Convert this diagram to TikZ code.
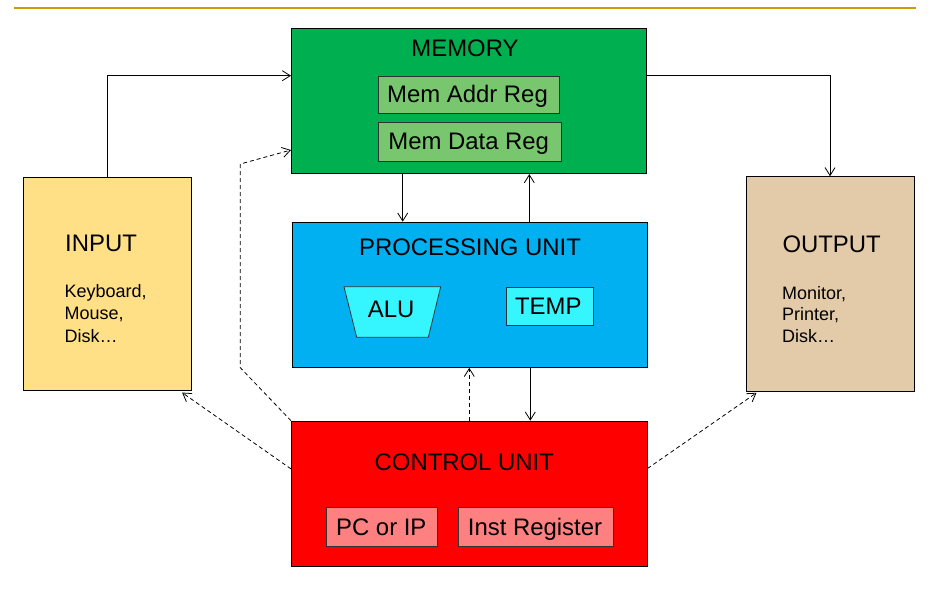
\documentclass[tikz,border=0pt]{standalone}
\usepackage{fontspec}
\setmainfont{Liberation Sans}
\usetikzlibrary{arrows.meta,calc}
\definecolor{memgreen}{HTML}{00B050}
\definecolor{reggreen}{HTML}{78C76E}
\definecolor{pucyan}{HTML}{00B0F0}
\definecolor{alucyan}{HTML}{35F6FF}
\definecolor{cured}{HTML}{FF0000}
\definecolor{regred}{HTML}{FF8080}
\definecolor{inyellow}{HTML}{FFE086}
\definecolor{outtan}{HTML}{E3CBA9}
\definecolor{goldline}{HTML}{CC9A06}
\tikzset{
  unitbox/.style={draw=black, line width=1.1pt, anchor=north west, inner sep=0pt, minimum width=#1},
  regbox/.style={draw=black!80, line width=0.8pt, anchor=north west, inner sep=0pt},
  bigtxt/.style={font=\fontsize{23.9}{28}\selectfont, inner sep=0pt, anchor=base},
  smalltxt/.style={font=\fontsize{18}{22}\selectfont, inner sep=0pt, anchor=base west, align=left},
  arr/.style={draw=black, line width=0.8pt, -{Straight Barb[length=8pt,width=10pt,line width=0.8pt]}},
  darr/.style={arr, dash pattern=on 4pt off 3pt},
}
\begin{document}
\begin{tikzpicture}[x=1pt,y=-1pt]
\useasboundingbox (0,0) rectangle (940,589);
% header rule
\draw[goldline, line width=1.7pt] (14,7.7) -- (915.7,7.7);
% main units
\node[unitbox=355pt, minimum height=145pt, fill=memgreen] (mem) at (291,28) {};
\node[unitbox=168pt, minimum height=213.5pt, fill=inyellow] (in) at (23,176.5) {};
\node[unitbox=168pt, minimum height=214.4pt, fill=outtan] (out) at (745.5,176.3) {};
\node[unitbox=355pt, minimum height=145pt, fill=pucyan] (pu) at (291.5,221.7) {};
\node[unitbox=355.5pt, minimum height=145.3pt, fill=cured] (cu) at (291,420.7) {};
% memory registers
\node[regbox, minimum width=181pt, minimum height=37.6pt, fill=reggreen] (mar) at (378.3,75.7) {};
\node[regbox, minimum width=182.4pt, minimum height=38.4pt, fill=reggreen] (mdr) at (378.3,122.3) {};
% processing unit parts
\draw[draw=black!80, line width=0.8pt, fill=alucyan] (344,286.7) -- (440.7,286.7) -- (428.3,337.3) -- (356.7,337.3) -- cycle;
\node[regbox, minimum width=86.4pt, minimum height=38pt, fill=alucyan] (temp) at (506.3,286.7) {};
% control unit registers
\node[regbox, minimum width=111pt, minimum height=39.3pt, fill=regred] (pc) at (326.3,506.7) {};
\node[regbox, minimum width=155pt, minimum height=39.3pt, fill=regred] (ir) at (458.3,506.7) {};
% texts
\node[bigtxt] (tmem) at (465,56) {MEMORY};
\node[bigtxt] (tmar) at (467.5,102.3) {Mem Addr Reg};
\node[bigtxt] (tmdr) at (468.7,149.3) {Mem Data Reg};
\node[bigtxt] (tpu) at (470,255) {PROCESSING UNIT};
\node[bigtxt] (talu) at (391.2,317.7) {ALU};
\node[bigtxt] (ttemp) at (548.3,314) {TEMP};
\node[bigtxt] (tcu) at (464.3,470.7) {CONTROL UNIT};
\node[bigtxt] (tpc) at (381.3,535) {PC or IP};
\node[bigtxt] (tir) at (535,535) {Inst Register};
\node[bigtxt, anchor=base west] (tin) at (65,251.7) {INPUT};
\node[bigtxt, anchor=base west] (tout) at (782.3,252.3) {OUTPUT};
\node[smalltxt] (lin1) at (64.5,297.5) {Keyboard,};
\node[smalltxt] (lin2) at (64.5,319.8) {Mouse,};
\node[smalltxt] (lin3) at (64.5,342) {Disk…};
\node[smalltxt] (lout1) at (782,299) {Monitor,};
\node[smalltxt] (lout2) at (782,320.8) {Printer,};
\node[smalltxt] (lout3) at (782,342) {Disk…};
% bend points
\coordinate (b1) at (240.3,367.7);
\coordinate (b2) at (240.3,164);
% connectors
\draw[arr] (in.north) |- ([yshift=-47.7pt]mem.north west);
\draw[arr] ([yshift=-47.7pt]mem.north east) -| (out.north);
\draw[arr] ([xshift=111.7pt]mem.south west) -- ([xshift=111.7pt]mem.south west |- pu.north);
\draw[arr] ([xshift=238.3pt]mem.south west |- pu.north) -- ([xshift=238.3pt]mem.south west);
\draw[darr] ([xshift=178.3pt]cu.north west) -- ([xshift=178.3pt]cu.north west |- pu.south);
\draw[arr] ([xshift=239.3pt]cu.north west |- pu.south) -- ([xshift=239.3pt]cu.north west);
\draw[darr] (cu.north west) -- (b1) -- (b2) -- ([yshift=-122pt]mem.north west);
\draw[darr] ([yshift=25pt]cu.west) -- ([xshift=-10pt,yshift=-1.5pt]in.south east);
\draw[darr] ([yshift=25.5pt]cu.east) -- ([xshift=11pt,yshift=-1pt]out.south west);
\end{tikzpicture}
\end{document}
